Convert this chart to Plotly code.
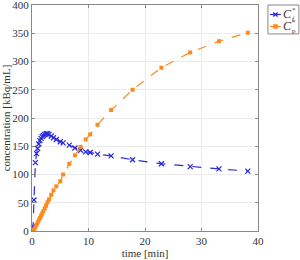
import plotly.graph_objects as go

time_min = [0, 0.2, 0.35, 0.6, 0.8, 1.0, 1.2, 1.4, 1.6, 1.8, 2.0, 2.25, 2.5, 2.75, 3.0,
            3.4, 3.8, 4.3, 5.0, 5.5, 6.6, 7.6, 8.6, 9.5, 10.3, 11.6, 14.0, 17.8, 22.9,
            28.0, 33.1, 38.2]
cf = [0, 8, 55, 121, 137, 146, 154, 160, 164, 167, 169, 171, 172, 172, 171,
      168, 165, 162, 158, 156, 152, 147, 143, 140, 139, 136, 133, 126, 119,
      114, 110, 106]
cp = [0, 1, 3, 7, 11, 15, 19, 23, 27, 31, 35, 40, 45, 51, 56,
      64, 72, 79, 88, 100, 119, 134, 149, 162, 171, 188, 214, 250, 289,
      316, 336, 351]
series_base = ["C", "C"]
series_sup = ["*", "*"]
series_sub = ["<i>f</i>", "p"]

BLUE = "#2b2bdc"
ORANGE = "#ff8a1c"
FONT = "Liberation Serif"

fig = go.Figure()
fig.add_trace(go.Scatter(
    x=time_min, y=cf, mode="lines+markers", name="C*f",
    line=dict(color=BLUE, width=1.2, dash="dash"),
    marker=dict(symbol="x-thin", size=5, line=dict(color=BLUE, width=1.3), color=BLUE),
))
fig.add_trace(go.Scatter(
    x=time_min, y=cp, mode="lines+markers", name="C*p",
    line=dict(color=ORANGE, width=1.2, dash="dash"),
    marker=dict(symbol="square", size=4, color=ORANGE),
))

axis_common = dict(
    showline=True, linecolor="#888888", linewidth=1, mirror="allticks",
    ticks="inside", ticklen=3, tickcolor="#888888",
    showgrid=True, gridcolor="#ebebeb", gridwidth=1, zeroline=False,
    tickfont=dict(family=FONT, size=11, color="#333333"),
    automargin=False, ticklabeloverflow="allow",
)

# manual legend (plotly's own legend would squeeze the plot area)
shapes = [dict(type="rect", xref="paper", yref="paper", x0=1.044, x1=1.181, y0=0.872, y1=1.0,
               line=dict(color="#888888", width=1), fillcolor="white", layer="above")]
annotations = []
legend_rows = [(0.958, BLUE, "x"), (0.905, ORANGE, "s")]
for i, (yy, col, sym) in enumerate(legend_rows):
    shapes.append(dict(type="line", xref="paper", yref="paper", x0=1.053, x1=1.101, y0=yy, y1=yy,
                       line=dict(color=col, width=1.2), layer="above"))
    if sym == "x":
        for dy in (-2, 2):
            shapes.append(dict(type="line", xref="paper", yref="paper",
                               xsizemode="pixel", ysizemode="pixel", xanchor=1.077, yanchor=yy,
                               x0=-2.2, x1=2.2, y0=-dy, y1=dy,
                               line=dict(color=col, width=1.3), layer="above"))
    else:
        shapes.append(dict(type="rect", xref="paper", yref="paper",
                           xsizemode="pixel", ysizemode="pixel", xanchor=1.077, yanchor=yy,
                           x0=-2, x1=2, y0=-2, y1=2,
                           line=dict(color=col, width=0.5), fillcolor=col, layer="above"))
    annotations.append(dict(xref="paper", yref="paper", x=1.107, y=yy, xanchor="left",
                            yanchor="middle", text="<i>" + series_base[i] + "</i>", showarrow=False,
                            borderpad=0,
                            font=dict(family=FONT, size=12, color="#333333")))
    annotations.append(dict(xref="paper", yref="paper", x=1.107, y=yy, xanchor="left",
                            yanchor="middle", text=series_sup[i] + "<br>" + series_sub[i],
                            showarrow=False, borderpad=0, xshift=9, align="left",
                            font=dict(family=FONT, size=7, color="#333333")))

fig.update_layout(
    width=300, height=260,
    margin=dict(l=32, r=42, t=5, b=29),
    paper_bgcolor="white", plot_bgcolor="white",
    font=dict(family=FONT, size=11, color="#333333"),
    xaxis=dict(range=[0, 40], tickvals=[0, 10, 20, 30, 40],
               title=dict(text="time [min]", standoff=0, font=dict(family=FONT, size=11)),
               **axis_common),
    yaxis=dict(range=[0, 400], tickvals=list(range(0, 401, 50)),
               title=dict(text="concentration [kBq/mL]", standoff=0, font=dict(family=FONT, size=11)),
               **axis_common),
    shapes=shapes, annotations=annotations,
    showlegend=False,
)

fig.write_html("out.html", config={"displayModeBar": False},
               post_script="document.body.style.margin='0px';document.body.style.overflow='hidden';")
